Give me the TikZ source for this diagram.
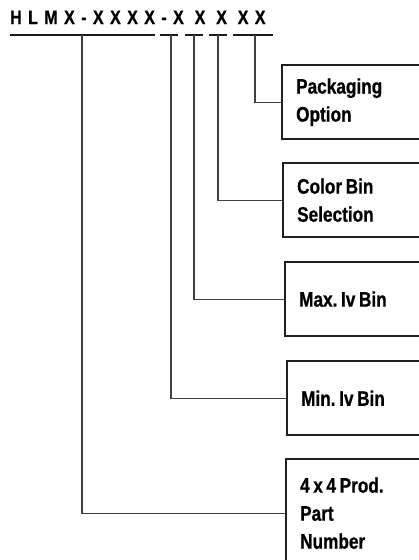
\documentclass[tikz,border=0pt]{standalone}
\usepackage{fontspec}
\setmainfont{Liberation Sans}
\newfontfamily\lblfont{Liberation Sans}[FakeStretch=0.82,BoldFeatures={FakeBold=0.8}]
\newfontfamily\titlefont{Liberation Sans}[FakeStretch=0.82,LetterSpace=33,BoldFeatures={FakeBold=0.8}]
\newcommand\lblsp{\spaceskip=3.6pt plus 1pt\relax\xspaceskip=3.6pt plus 1pt\relax}
\begin{document}
\begin{tikzpicture}[x=1pt,y=-1pt,
  lbl/.style={draw=black!88,line width=2.3pt,anchor=north west,minimum height=74pt,
    text width=140pt,inner xsep=14pt,inner ysep=0pt,align=left,
    font=\lblfont\bfseries\fontsize{21}{28}\selectfont},
  uline/.style={line width=2pt,black!90},
  conn/.style={line width=1.2pt,black!75}]
\clip (0,0) rectangle (419,560);
\useasboundingbox (0,0) rectangle (419,560);
\node[anchor=base west,inner sep=0pt,font=\titlefont\bfseries\fontsize{19.5}{20}\selectfont] (title) at (10,24) {HLMX-XXXX-X X X XX};
\coordinate (a1) at (10,35); \coordinate (b1) at (155,35);
\coordinate (a2) at (160,35); \coordinate (b2) at (178,35);
\coordinate (a3) at (185,35); \coordinate (b3) at (203,35);
\coordinate (a4) at (209,35); \coordinate (b4) at (227,35);
\coordinate (a5) at (233,35); \coordinate (b5) at (273,35);
\coordinate (u1) at (82,35);
\coordinate (u2) at (171,35);
\coordinate (u3) at (194,35);
\coordinate (u4) at (218,35);
\coordinate (u5) at (255,35);
\foreach \i in {1,...,5} \draw[uline] (a\i) -- (b\i);
\node[lbl] (pkg) at (281,64) {\lblsp Packaging\\Option};
\node[lbl] (col) at (282,162) {\lblsp Color Bin\\Selection};
\node[lbl] (max) at (284,261) {\lblsp Max. Iv Bin};
\node[lbl] (min) at (286,360) {\lblsp Min. Iv Bin};
\node[lbl,minimum height=108pt] (num) at (285,458) {\lblsp 4 x 4 Prod.\\Part\\Number};
\draw[conn] (u5) |- (pkg.west);
\draw[conn] (u4) |- (col.west);
\draw[conn] (u3) |- (max.west);
\draw[conn] (u2) |- (min.west);
\draw[conn] (u1) |- (num.west);
\end{tikzpicture}
\end{document}
